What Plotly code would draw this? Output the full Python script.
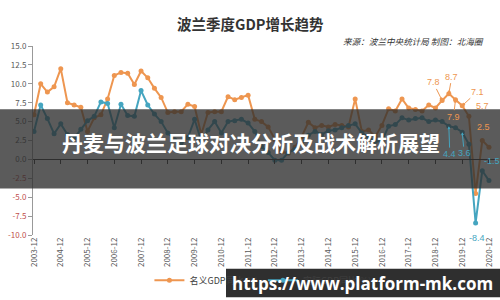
import plotly.graph_objects as go

# quarterly, 2003Q4 .. 2020Q4
quarters = list(range(69))
tick_idx = list(range(0, 69, 4))
tick_labels = [f"{y}-12" for y in range(2003, 2021)]

nominal = [5.9, 10.0, 8.9, 9.6, 12.0, 7.5, 7.2, 6.9, 3.7, 5.5, 5.9, 8.0,
           11.1, 11.5, 11.4, 9.9, 11.7, 10.8, 9.4, 8.2, 6.2, 6.3, 6.3, 7.3,
           7.0, 3.3, 6.2, 6.3, 6.3, 8.3, 7.9, 8.2, 8.5, 5.3, 5.0, 4.3,
           2.6, 1.0, 0.8, 1.6, 3.0, 4.9, 4.2, 4.5, 4.3, 4.6, 4.5, 4.3,
           8.0, 3.7, 3.9, 3.0, 4.5, 6.7, 6.4, 8.0, 6.8, 6.6, 6.4, 7.2,
           6.8, 7.8, 8.7, 7.9, 7.1, 5.7, -4.5, 2.5, 1.6]
real = [3.7, 7.2, 5.4, 3.4, 4.7, 3.3, 2.8, 4.0, 5.1, 5.7, 7.6, 7.4,
        4.2, 7.3, 5.8, 5.7, 9.1, 7.2, 6.0, 5.0, 3.5, 2.6, 2.2, 2.9,
        5.3, 2.4, 3.9, 5.0, 3.5, 5.0, 5.1, 5.3, 4.8, 3.7, 1.7, 0.9,
        -0.1, -0.1, 0.9, 1.3, 2.0, 3.2, 3.7, 3.3, 3.8, 3.9, 4.2, 4.5,
        4.7, 3.5, 3.0, 2.4, 2.4, 4.4, 4.6, 5.5, 5.2, 5.4, 5.5, 5.0,
        5.2, 5.0, 4.4, 4.2, 3.6, 2.0, -8.4, -1.5, -2.8]

names = ["名义GDP同比(%)", "实际GDP同比(%)"]
orange = "#EE9650"
teal = "#45A5C0"

y_ticks = [15, 12.5, 10, 7.5, 5, 2.5, 0, -2.5, -5, -7.5, -10]
y_text = [(f"{v:.1f}" if v >= 0 else f"<span style='color:#C0504D'>{v:.1f}</span>") for v in y_ticks]

fig = go.Figure()
fig.add_trace(go.Scatter(x=quarters, y=nominal, name=names[0], mode="lines+markers",
                         line=dict(color=orange, width=2), marker=dict(size=5, color=orange)))
fig.add_trace(go.Scatter(x=quarters, y=real, name=names[1], mode="lines+markers",
                         line=dict(color=teal, width=2), marker=dict(size=5, color=teal)))
# invisible trace to activate the zero-line category axis
fig.add_trace(go.Scatter(x=quarters[:1], y=[0], xaxis="x2", mode="markers",
                         marker=dict(opacity=0), showlegend=False, hoverinfo="skip"))

# data labels
lab = [
    (61, nominal, "7.8", orange, -9, -18, True),
    (62, nominal, "8.7", orange, 3, -17, True),
    (63, nominal, "7.9", orange, -2, 17, True),
    (64, nominal, "7.1", orange, 15, -14, True),
    (65, nominal, "5.7", orange, 14, -10, False),
    (67, nominal, "2.5", orange, 1, -14, False),
    (62, real, "4.4", teal, 1, 28, True),
    (64, real, "3.6", teal, 2, 21, True),
    (66, real, "-8.4", teal, 1, 15, False),
    (67, real, "-1.5", teal, 10, -10, False),
]
for i, s, t, c, ax, ay, arr in lab:
    fig.add_annotation(x=quarters[i], y=s[i], text=t, showarrow=True, ax=ax, ay=ay,
                       arrowcolor=c if arr else "rgba(0,0,0,0)", arrowwidth=1, arrowhead=2,
                       arrowsize=0.6, font=dict(size=9, color=c, family="Liberation Sans Narrow, Arial Narrow, sans-serif"))

fig.update_layout(
    width=500, height=300, margin=dict(l=33, r=5, t=46, b=63),
    paper_bgcolor="white", plot_bgcolor="white",
    font=dict(family="Liberation Sans Narrow, Arial Narrow, Noto Sans CJK SC, sans-serif", size=9, color="#555"),
    xaxis=dict(range=[-0.15, 68.9], tickvals=tick_idx, ticktext=tick_labels, tickangle=-90,
               showline=False, ticks="", showgrid=False, zeroline=False,
               tickfont=dict(size=8, color="#595959")),
    xaxis2=dict(range=[-0.15, 68.9], overlaying="x", anchor="free", position=0.4, side="bottom",
                tickvals=tick_idx, showticklabels=False, ticks="outside", ticklen=4,
                tickcolor="#333", showline=True, linecolor="#333", linewidth=1,
                showgrid=False, zeroline=False),
    yaxis=dict(range=[-10, 15], tickvals=y_ticks, ticktext=y_text, showgrid=False, zeroline=False,
               showline=True, linecolor="#999", ticks="outside", ticklen=4, tickcolor="#999",
               tickfont=dict(size=8, color="#595959")),
    legend=dict(orientation="h", x=0.252, xanchor="left", y=-0.24, yanchor="middle",
                font=dict(size=9, color="#404040", family="Noto Sans CJK SC, sans-serif"),
                itemwidth=30, bgcolor="rgba(0,0,0,0)"),
    showlegend=True,
)

# title and source
fig.add_annotation(text="<b>波兰季度GDP增长趋势</b>", xref="paper", yref="paper", x=(250.5 - 33) / 462, y=1,
                   yshift=23, showarrow=False, xanchor="center", yanchor="middle",
                   font=dict(size=14.5, color="#333", family="Noto Sans CJK SC"))
fig.add_annotation(text="<i>来源：波兰中央统计局 制图：北海圈</i>", xref="paper", yref="paper",
                   x=(486 - 33) / 462, y=1, yshift=5, showarrow=False, xanchor="right", yanchor="middle",
                   font=dict(size=8.6, color="#333", family="Noto Sans CJK SC"))

# overlay banner
fig.add_shape(type="rect", xref="paper", yref="paper", x0=-33 / 462, x1=467 / 462,
              y0=(237 - 190) / 191, y1=(237 - 110) / 191, fillcolor="rgba(45,45,45,0.78)", line=dict(width=0))
fig.add_annotation(text="<b>丹麦与波兰足球对决分析及战术解析展望</b>", xref="paper", yref="paper",
                   x=(251 - 33) / 462, y=(237 - 143) / 191, showarrow=False, xanchor="center", yanchor="middle",
                   font=dict(size=21, color="white", family="Noto Sans CJK SC"))
# watermark
fig.add_shape(type="rect", xref="paper", yref="paper", x0=(226 - 33) / 462, x1=467 / 462,
              y0=(237 - 300) / 191, y1=(237 - 271) / 191, fillcolor="rgba(10,10,10,0.85)", line=dict(width=0))
fig.add_annotation(text="<b>https://www.platform-mk.com</b>", xref="paper", yref="paper",
                   x=(362 - 33) / 462, y=(237 - 286) / 191, showarrow=False, xanchor="center", yanchor="middle",
                   font=dict(size=17, color="white", family="Open Sans"))

fig.write_html("out.html")
